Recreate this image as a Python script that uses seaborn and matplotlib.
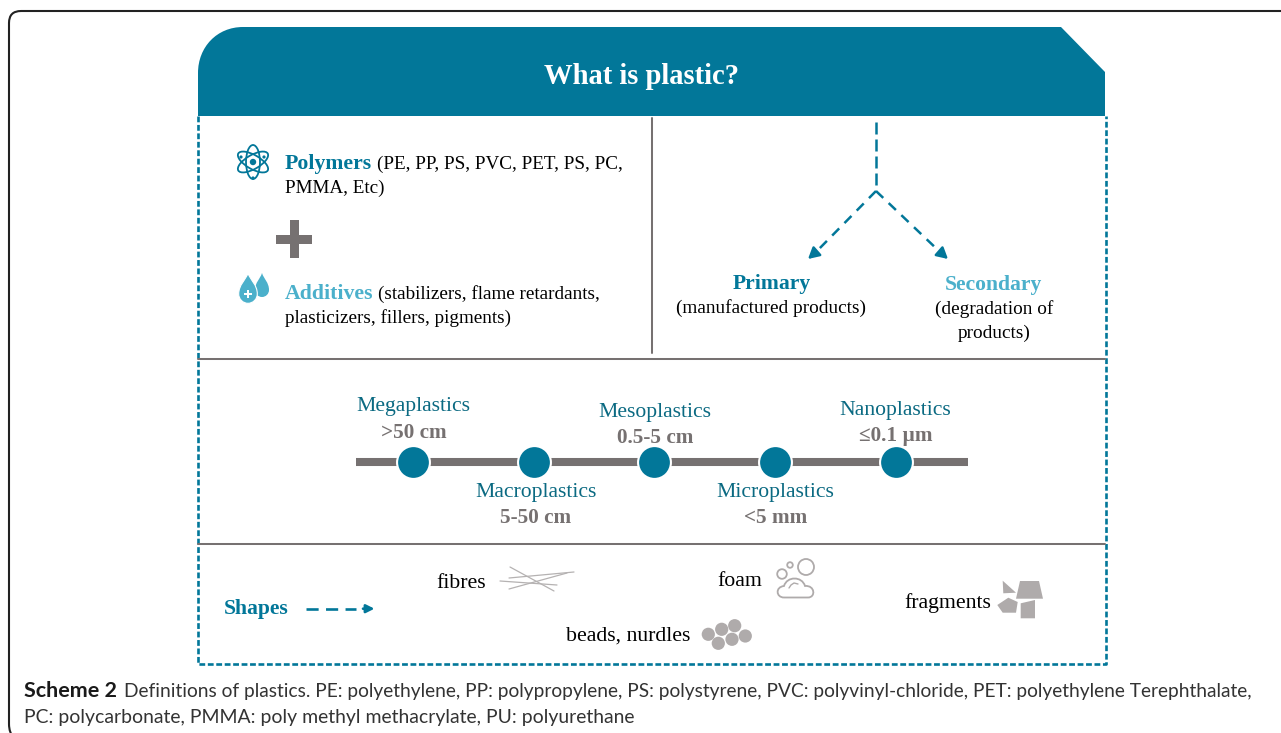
import matplotlib
matplotlib.use("Agg")
import matplotlib.pyplot as plt
import matplotlib.patches as mpatches
from matplotlib.path import Path
import pandas as pd
import seaborn as sns

# Scale of plastic sizes
stages = ["Megaplastics", "Macroplastics", "Mesoplastics", "Microplastics", "Nanoplastics"]
stage_sizes = [">50 cm", "5-50 cm", "0.5-5 cm", "<5 mm", "≤0.1 µm"]
stage_order = [0, 1, 2, 3, 4]

# Texts
title = "What is plastic?"
polymers_head = "Polymers"
polymers_rest = ["(PE, PP, PS, PVC, PET, PS, PC,", "PMMA, Etc)"]
additives_head = "Additives"
additives_rest = ["(stabilizers, flame retardants,", "plasticizers, fillers, pigments)"]
shape_names = ["fibres", "foam", "beads, nurdles", "fragments"]
caption_head = "Scheme 2"
caption_1 = "Definitions of plastics. PE: polyethylene, PP: polypropylene, PS: polystyrene, PVC: polyvinyl-chloride, PET: polyethylene Terephthalate,"
caption_2 = "PC: polycarbonate, PMMA: poly methyl methacrylate, PU: polyurethane"

TEAL = "#027799"
DARKTEAL = "#0b6a82"
LIGHT = "#4bb0cb"
GREY = "#767171"
SHAPE = "#afabab"
W, H = 1281, 733

sns.set_theme(style="white")
plt.rcParams["font.family"] = ["Liberation Serif", "DejaVu Serif"]

fig = plt.figure(figsize=(W / 100, H / 100), dpi=100)
ax = fig.add_axes([0, 0, 1, 1])
ax.set_xlim(0, W)
ax.set_ylim(H, 0)
ax.axis("off")


def px(size):
    return size * 0.72


def txt(x, y, s, size=19.2, color="black", weight="normal", ha="left", **kw):
    return ax.text(x, y + 4, s, fontsize=px(size), color=color, fontweight=weight,
                   ha=ha, va="center", **kw)


def dashed_arrow(start, end, tip, on_off, lw=1.8, head="-|>,head_width=0.3,head_length=0.55"):
    # dashed shaft, then a solid head so the head is not cut by the dashes
    ax.plot([start[0], end[0]], [start[1], end[1]], color=TEAL, lw=lw, ls=(0, on_off))
    ax.annotate("", xy=tip, xytext=end,
                arrowprops=dict(arrowstyle=head, color=TEAL, lw=lw, shrinkA=0, shrinkB=0))


# page frame
frame = Path([(W + 20, 11), (21, 11), (9, 11), (9, 23), (9, 724), (9, 733), (14, 738)],
             [Path.MOVETO, Path.LINETO, Path.CURVE3, Path.CURVE3, Path.LINETO, Path.CURVE3, Path.CURVE3])
ax.add_patch(mpatches.PathPatch(frame, fc="none", ec="#222222", lw=1.5))

# header band
band = Path([(198, 116), (198, 73), (198, 47), (217, 27), (243, 27), (1061, 27), (1105, 72), (1105, 116), (198, 116)],
            [Path.MOVETO, Path.LINETO, Path.CURVE4, Path.CURVE4, Path.CURVE4, Path.LINETO, Path.LINETO,
             Path.LINETO, Path.CLOSEPOLY])
ax.add_patch(mpatches.PathPatch(band, fc=TEAL, ec="none"))
txt(641.5, 73, title, size=28.6, color="white", weight="bold", ha="center")

# dashed box
ax.plot([198, 198, 1105.5, 1105.5], [116, 664, 664, 116], color=TEAL, lw=1.9, ls=(0, (2.2, 1.0)))

# separators
ax.plot([198, 1105], [359, 359], color=GREY, lw=1.45)
ax.plot([198, 1105], [544, 544], color=GREY, lw=1.45)
ax.plot([652, 652], [118, 353], color=GREY, lw=1.45)

# left top block
txt(285, 160, polymers_head, size=21.8, color=TEAL, weight="bold")
txt(377, 160.5, polymers_rest[0])
txt(285, 184, polymers_rest[1])
txt(285, 290, additives_head, size=21.8, color=LIGHT, weight="bold")
txt(378, 290.5, additives_rest[0])
txt(285, 314, additives_rest[1])

# atom icon
for ang in (90, 30, 150):
    ax.add_patch(mpatches.Ellipse((253, 162), 34, 14, angle=ang, fc="none", ec=TEAL, lw=1.3))
ax.add_patch(mpatches.Circle((253, 162), 3.2, fc=TEAL, ec="none"))
for ex, ey in [(241, 157), (264, 157), (253, 178)]:
    ax.add_patch(mpatches.Circle((ex, ey), 1.6, fc=TEAL, ec="none"))

# plus sign
ax.add_patch(mpatches.Rectangle((276, 234.5), 36, 9, fc=GREY, ec="none"))
ax.add_patch(mpatches.Rectangle((290, 220), 8.5, 38, fc=GREY, ec="none"))


# drops
def drop(cx, cy, r, top, ec="none"):
    h = cy - top
    verts = [(cx, top), (cx + r * 0.25, top + h * 0.35), (cx + r, cy - h * 0.45), (cx + r, cy),
             (cx + r, cy + r * 0.55), (cx + r * 0.55, cy + r), (cx, cy + r),
             (cx - r * 0.55, cy + r), (cx - r, cy + r * 0.55), (cx - r, cy),
             (cx - r, cy - h * 0.45), (cx - r * 0.25, top + h * 0.35), (cx, top)]
    codes = [Path.MOVETO] + [Path.CURVE4] * 12
    ax.add_patch(mpatches.PathPatch(Path(verts, codes), fc=LIGHT, ec=ec, lw=0.8))


drop(262, 290, 7, 273)
drop(248, 294, 9.3, 273, ec="white")
ax.add_patch(mpatches.Rectangle((244, 292.7), 8, 2.6, fc="white", ec="none"))
ax.add_patch(mpatches.Rectangle((246.7, 290), 2.6, 8, fc="white", ec="none"))

# primary / secondary arrows
ax.plot([876, 876], [122, 190], color=TEAL, lw=1.8, ls=(0, (4.8, 2)))
dashed_arrow((876, 191), (816, 252), (808, 259), (4, 3))
dashed_arrow((876, 191), (940, 252), (948, 259), (4, 3))
txt(771.5, 280, "Primary", size=21.7, color=TEAL, weight="bold", ha="center")
txt(771.5, 304, "(manufactured products)", size=19.3, ha="center")
txt(994, 281, "Secondary", size=21.7, color=LIGHT, weight="bold", ha="center")
txt(994, 305, "(degradation of", size=19.3, ha="center")
txt(994, 329, "products)", size=19.3, ha="center")

# size scale, drawn on its own axes so the stages sit on a real scale
left, right, top, bottom = 356, 968, 442, 482
scale_ax = fig.add_axes([left / W, 1 - bottom / H, (right - left) / W, (bottom - top) / H])
scale_df = pd.DataFrame({"order": stage_order, "stage": stages, "level": [0] * len(stages)})
scale_ax.axhline(0, color=GREY, lw=5.8, zorder=1)
sns.scatterplot(data=scale_df, x="order", y="level", ax=scale_ax, s=560, color=TEAL,
                edgecolor="white", linewidth=1.5, zorder=3, legend=False, clip_on=False)
scale_ax.set_xlim(-57 / 120.75, 555 / 120.75)
scale_ax.set_ylim(-1, 1)
scale_ax.axis("off")

name_y = [403, 489, 408, 489, 406]
size_y = [429, 514, 434, 514, 432]
name_x = [413.5, 535.5, 655, 775.5, 895.5]
for i in stage_order:
    txt(name_x[i], name_y[i], stages[i], size=21.7, color=DARKTEAL, ha="center")
    txt(name_x[i], size_y[i], stage_sizes[i], size=21.3, color=GREY, weight="bold", ha="center")

# shapes row
txt(224, 605, "Shapes", size=21.7, color=TEAL, weight="bold")
ax.plot([305.7, 356], [608.7, 608.7], color=TEAL, lw=1.9, ls=(0, (4.6, 2.8)))
ax.annotate("", xy=(374.5, 608.7), xytext=(363, 608.7),
            arrowprops=dict(arrowstyle="-|>,head_width=0.2,head_length=0.4", color=TEAL, lw=1.9,
                            shrinkA=0, shrinkB=0))
txt(436, 579, shape_names[0], size=21.8)
txt(717, 578, shape_names[1], size=21.8)
txt(566, 632, shape_names[2], size=21.8)
txt(904, 599, shape_names[3], size=21.8)

# fibres
for x0, y0, x1, y1 in [(510, 567, 554, 591), (509, 578, 574, 572), (500, 581, 557, 585), (509, 589, 567, 573)]:
    ax.plot([x0, x1], [y0, y1], color="#b5b2b2", lw=0.9)

# foam
for cx, cy, r in [(806, 567, 8), (782, 574, 4.8), (790, 565, 2.8)]:
    ax.add_patch(mpatches.Circle((cx, cy), r, fc="none", ec=SHAPE, lw=1.3))
cloud = Path([(784, 597.5), (776, 597.5), (775, 587), (784, 586), (787, 576), (802, 576), (805, 586),
              (815, 585), (816, 597.5), (808, 597.5), (784, 597.5)],
             [Path.MOVETO] + [Path.CURVE4] * 9 + [Path.LINETO])
ax.add_patch(mpatches.PathPatch(cloud, fc="none", ec=SHAPE, lw=1.3))
ax.plot([789, 791, 794, 798], [588, 585, 583, 584], color=SHAPE, lw=1)

# beads
for cx, cy in [(708.3, 634.3), (721.7, 629.3), (734.7, 625.7), (718.3, 643.3), (732, 639.3), (745.3, 636)]:
    ax.add_patch(mpatches.Circle((cx, cy), 6.6, fc=SHAPE, ec="none"))

# fragments
for poly in [[(1002.7, 580.7), (1016, 592.7), (1003.3, 593.3)],
             [(1020, 581), (1039, 581), (1043, 598.7), (1016, 598.7)],
             [(1008.3, 597.7), (1017.7, 602), (1016, 612.7), (1002.7, 612.7), (997.3, 605)],
             [(1020.7, 603.3), (1035, 600), (1035, 618.3), (1020.7, 618.3)]]:
    ax.add_patch(mpatches.Polygon(poly, closed=True, fc=SHAPE, ec="none"))

# caption
cap_font = ["Lato", "DejaVu Sans"]
ax.text(24, 691, caption_head, fontsize=px(21.5), fontweight="bold", family=cap_font,
        color="#1a1a1a", va="center")
ax.text(124, 691, caption_1, fontsize=px(19.1), family=cap_font, color="#333333", va="center")
ax.text(24, 718, caption_2, fontsize=px(19.35), family=cap_font, color="#333333", va="center")

fig.savefig("out.png", dpi=100, facecolor="white")
